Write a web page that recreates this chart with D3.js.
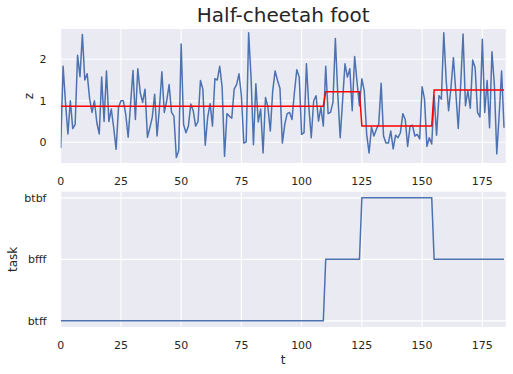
<!DOCTYPE html>
<html lang="en">
<head>
  <meta charset="UTF-8">
  <title>Half-cheetah foot</title>
  <script src="https://d3js.org/d3.v7.min.js"></script>
  <style>
    body { margin: 0; background: #fff; }
    svg { display: block; font-family: "DejaVu Sans", sans-serif; }
  </style>
</head>
<body>
  <div id="chart"></div>

  <script>
    // foot z per time step
    const zValues = [
      -0.14, 1.83, 0.95, 0.2, 1.0, 0.33, 0.43, 2.1, 1.58, 2.6,
      1.5, 1.65, 1.05, 0.72, 1.0, 0.47, 0.2, 1.57, 0.5, 1.72,
      0.5, 0.8, 0.35, -0.17, 0.84, 1.0, 1.0, 0.67, 0.12, 0.92,
      1.73, 0.55, 1.77, 1.2, 0.96, 1.28, 0.12, 0.35, 0.6, 1.16,
      0.15, 0.84, 1.7, 0.72, 1.0, 1.39, 0.72, 0.63, -0.37, -0.2,
      2.37, 0.43, 0.23, 0.39, 0.92, 0.76, 0.39, 0.5, 1.49, 1.28,
      -0.07, 0.6, 0.93, 0.39, 1.53, 1.5, 1.83, 1.33, -0.34, 0.69,
      0.63, 0.58, 1.28, 1.39, 1.65, 1.12, -0.02, 0.01, 2.64, 1.57,
      -0.06, 1.41, 0.49, 0.8, -0.26, 1.08, 0.85, 0.27, 1.24, 1.72,
      1.49, 1.3, -0.02, 0.43, 0.69, 0.72, 0.55, 1.2, 1.75, 1.57,
      0.19, 0.23, 1.89, 0.84, 0.11, 1.0, 1.12, 0.51, 0.84, 0.39,
      1.83, 0.69, 0.72, 0.96, 2.5, 1.16, 0.11, 1.0, 1.89, 1.57,
      1.77, 0.76, 2.07, 1.45, 0.88, 1.53, 1.24, 0.19, -0.26, 0.37,
      0.15, 0.31, 0.43, 1.42, 0.15, -0.02, -0.02, 0.27, -0.16, 0.17,
      0.11, 0.23, 0.69, 0.55, -0.1, 0.39, 0.41, 0.15, 0.19, 0.08,
      1.34, 1.04, -0.1, 0.11, -0.04, 1.12, 0.17, 1.12, 1.04, 2.64,
      1.49, 0.76, 1.33, 2.04, 1.2, 0.33, 1.37, 2.61, 0.88, 1.24,
      0.82, 1.98, 1.8, 0.72, 0.61, 2.48, 0.72, 1.49, 0.35, 2.18,
      1.37, -0.28, 0.67, 1.72, 0.35
    ];

    // task categories (bottom y axis, bottom to top)
    const taskNames = ['btff', 'bfff', 'btbf'];
    // which task runs over which time steps
    const taskRuns = [
      { task: 'btff', start: 0, end: 109 },
      { task: 'bfff', start: 110, end: 124 },
      { task: 'btbf', start: 125, end: 154 },
      { task: 'bfff', start: 155, end: 184 }
    ];
    // red level of z for each run
    const runLevels = [0.87, 1.22, 0.39, 1.26];

    const xTicks = [0, 25, 50, 75, 100, 125, 150, 175];
    const zTicks = [0, 1, 2];

    // expand the runs to one entry per time step
    const steps = [];
    taskRuns.forEach((run, i) => {
      for (let t = run.start; t <= run.end; t++) {
        steps.push({ t: t, z: zValues[t], task: run.task, level: runLevels[i] });
      }
    });

    function renderChart() {
      const W = 513, H = 374;
      const left = 60.7, right = 505.7;
      const top1 = 29, bottom1 = 163;
      const top2 = 191.7, bottom2 = 327;
      const textColor = '#262626';

      const svg = d3.select('#chart').append('svg')
        .attr('width', W)
        .attr('height', H);

      const x = d3.scaleLinear().domain([0, 184.7]).range([left, right]);
      const yz = d3.scaleLinear().domain([-0.5, 2.73]).range([bottom1, top1]);
      const yTask = d3.scaleLinear().domain([-0.1, 2.1]).range([bottom2, top2]);

      const defs = svg.append('defs');
      [['clip1', top1, bottom1], ['clip2', top2, bottom2]].forEach(c => {
        defs.append('clipPath').attr('id', c[0])
          .append('rect')
          .attr('x', left).attr('y', c[1])
          .attr('width', right - left).attr('height', c[2] - c[1]);
      });

      // panel backgrounds + grid
      function panel(top, bottom, yScale, yVals) {
        const g = svg.append('g');
        g.append('rect')
          .attr('x', left).attr('y', top)
          .attr('width', right - left).attr('height', bottom - top)
          .attr('fill', '#eaeaf2');
        g.selectAll('.vg').data(xTicks).enter().append('line')
          .attr('x1', d => x(d)).attr('x2', d => x(d))
          .attr('y1', top).attr('y2', bottom)
          .attr('stroke', '#fff').attr('stroke-width', 1.1);
        g.selectAll('.hg').data(yVals).enter().append('line')
          .attr('x1', left).attr('x2', right)
          .attr('y1', d => yScale(d)).attr('y2', d => yScale(d))
          .attr('stroke', '#fff').attr('stroke-width', 1.1);
        // x tick labels
        g.selectAll('.xt').data(xTicks).enter().append('text')
          .attr('x', d => x(d)).attr('y', bottom + 22)
          .attr('text-anchor', 'middle')
          .attr('font-size', '11px')
          .attr('fill', textColor)
          .text(d => d);
        return g;
      }

      const p1 = panel(top1, bottom1, yz, zTicks);
      const p2 = panel(top2, bottom2, yTask, taskNames.map((d, i) => i));

      // y tick labels
      p1.selectAll('.yt').data(zTicks).enter().append('text')
        .attr('x', 46.5).attr('y', d => yz(d) + 4)
        .attr('text-anchor', 'end')
        .attr('font-size', '11px')
        .attr('fill', textColor)
        .text(d => d);
      p2.selectAll('.yt').data(taskNames).enter().append('text')
        .attr('x', 46.5).attr('y', (d, i) => yTask(i) + 4)
        .attr('text-anchor', 'end')
        .attr('font-size', '11px')
        .attr('fill', textColor)
        .text(d => d);

      // lines
      const zLine = d3.line().x(d => x(d.t)).y(d => yz(d.z));
      const levelLine = d3.line().x(d => x(d.t)).y(d => yz(d.level));
      const taskLine = d3.line().x(d => x(d.t)).y(d => yTask(taskNames.indexOf(d.task)));

      svg.append('path')
        .datum(steps)
        .attr('clip-path', 'url(#clip1)')
        .attr('d', zLine)
        .attr('fill', 'none')
        .attr('stroke', '#4c72b0')
        .attr('stroke-width', 1.5)
        .attr('stroke-linejoin', 'round');

      svg.append('path')
        .datum(steps)
        .attr('clip-path', 'url(#clip1)')
        .attr('d', levelLine)
        .attr('fill', 'none')
        .attr('stroke', '#ff0000')
        .attr('stroke-width', 1.5);

      svg.append('path')
        .datum(steps)
        .attr('clip-path', 'url(#clip2)')
        .attr('d', taskLine)
        .attr('fill', 'none')
        .attr('stroke', '#4c72b0')
        .attr('stroke-width', 1.5);

      // title and axis labels
      svg.append('text')
        .attr('x', (left + right) / 2).attr('y', 22)
        .attr('text-anchor', 'middle')
        .attr('font-size', '20px')
        .attr('fill', textColor)
        .text('Half-cheetah foot');

      svg.append('text')
        .attr('transform', `translate(33,${(top1 + bottom1) / 2}) rotate(-90)`)
        .attr('text-anchor', 'middle')
        .attr('font-size', '12px')
        .attr('fill', textColor)
        .text('z');

      svg.append('text')
        .attr('transform', `translate(17,${(top2 + bottom2) / 2}) rotate(-90)`)
        .attr('text-anchor', 'middle')
        .attr('font-size', '12px')
        .attr('fill', textColor)
        .text('task');

      svg.append('text')
        .attr('x', (left + right) / 2).attr('y', 364)
        .attr('text-anchor', 'middle')
        .attr('font-size', '12px')
        .attr('fill', textColor)
        .text('t');
    }

    document.addEventListener('DOMContentLoaded', renderChart);
  </script>
</body>
</html>
